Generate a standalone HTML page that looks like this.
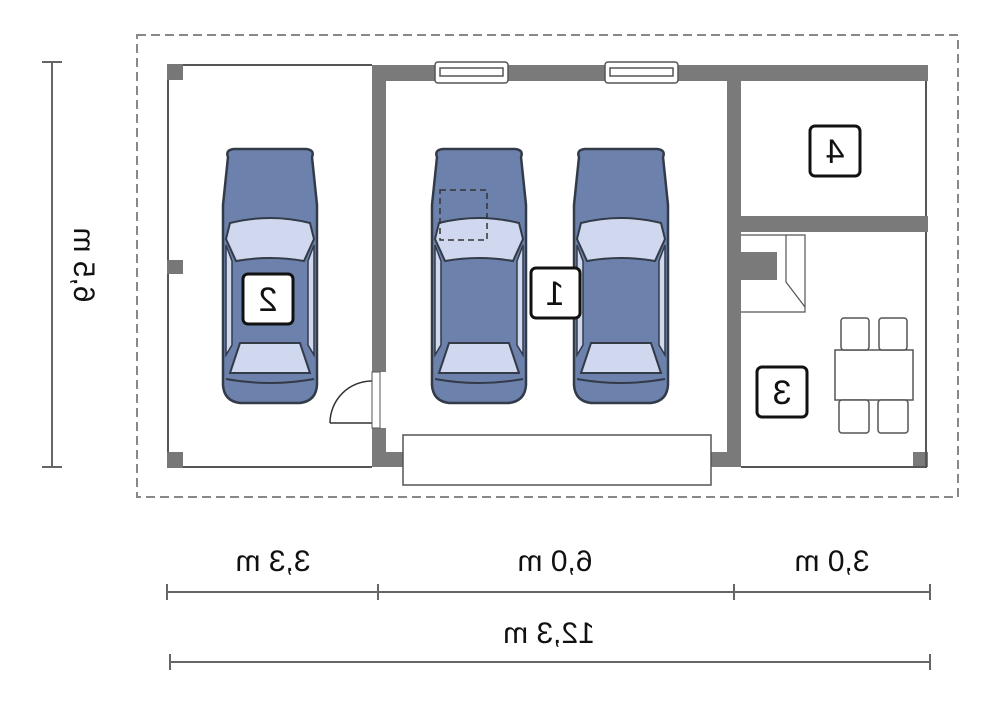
<!DOCTYPE html>
<html><head><meta charset="utf-8"><style>html,body{margin:0;padding:0;background:#fff}svg{display:block}</style></head>
<body>
<svg width="1000" height="724" viewBox="0 0 1000 724" xmlns="http://www.w3.org/2000/svg" font-family="Liberation Sans, sans-serif">
<defs>
<g id="car">
  <path d="M-42,-118 Q-45,-125 -36,-126 L36,-126 Q45,-125 42,-118 L47,-70 L47,110 Q46,126 30,128 L-30,128 Q-46,126 -47,110 L-47,-70 Z" fill="#6c82ad" stroke="#333a48" stroke-width="2.5"/>
  <path d="M-40,-52 Q0,-62 40,-52 L44,-36 L34,-14 Q0,-20 -34,-14 L-44,-36 Z" fill="#cfd8ee" stroke="#333a48" stroke-width="2"/>
  <path d="M-44,-30 L-38,-14 L-38,70 L-44,80 Z M44,-30 L38,-14 L38,70 L44,80 Z" fill="#cfd8ee" stroke="#333a48" stroke-width="1.5"/>
  <path d="M-30,68 L30,68 L40,98 L-40,98 Z" fill="#cfd8ee" stroke="#333a48" stroke-width="2"/>
  <path d="M-44,104 Q0,112 44,104" fill="none" stroke="#333a48" stroke-width="2"/>
</g>
</defs>
<rect x="137" y="35" width="821" height="462" fill="none" stroke="#888" stroke-width="2" stroke-dasharray="9,5"/>
<path d="M168,65 H372 M168,65 V467 H372" fill="none" stroke="#555" stroke-width="2"/>
<rect x="167" y="64" width="16" height="16" fill="#777"/>
<rect x="167" y="260" width="16" height="14" fill="#777"/>
<rect x="167" y="452" width="16" height="16" fill="#777"/>
<g fill="#7a7a7a">
<rect x="372" y="65" width="556" height="16"/>
<rect x="372" y="65" width="14" height="307"/>
<rect x="372" y="428" width="14" height="39"/>
<rect x="372" y="452" width="31" height="15"/>
<rect x="711" y="452" width="30" height="15"/>
<rect x="727" y="65" width="14" height="402"/>
<rect x="741" y="216" width="187" height="16"/>
<rect x="741" y="252" width="36" height="28"/>
<rect x="913" y="452" width="15" height="15"/>
</g>
<path d="M926,81 V216 M926,232 V467 H741" fill="none" stroke="#555" stroke-width="2"/>
<g fill="#fff" stroke="#555" stroke-width="1.5">
<rect x="435" y="62" width="73" height="21" rx="3"/><rect x="440" y="68" width="63" height="8"/>
<rect x="605" y="62" width="73" height="21" rx="3"/><rect x="610" y="68" width="63" height="8"/>
</g>
<path d="M330,423 H372 M330,423 A42,42 0 0 1 372,381" fill="none" stroke="#333" stroke-width="1.5"/>
<rect x="372" y="372" width="8" height="56" fill="#fff" stroke="#555" stroke-width="1"/>
<rect x="403" y="435" width="308" height="50" fill="#fff" stroke="#555" stroke-width="1.5"/>
<path d="M741,235 H805 V312 H741 M786,235 V282 L805,307" fill="none" stroke="#555" stroke-width="1.2"/>
<g fill="#fff" stroke="#555" stroke-width="1.5">
<rect x="835" y="350" width="78" height="50"/>
<rect x="841" y="318" width="28" height="32" rx="3"/><rect x="879" y="318" width="28" height="32" rx="3"/>
<rect x="839" y="400" width="30" height="33" rx="3"/><rect x="878" y="400" width="30" height="33" rx="3"/>
</g>
<use href="#car" x="270" y="275"/>
<use href="#car" x="479" y="275"/>
<use href="#car" x="621" y="275"/>
<rect x="440" y="190" width="47" height="50" fill="none" stroke="#333" stroke-width="1.5" stroke-dasharray="6,4"/>
<g fill="#fff" stroke="#111" stroke-width="3">
<rect x="531" y="268" width="49" height="50" rx="5"/>
<rect x="243" y="274" width="50" height="50" rx="5"/>
<rect x="757" y="367" width="50" height="50" rx="5"/>
<rect x="810" y="126" width="50" height="50" rx="5"/>
</g>
<g font-size="34" text-anchor="middle" fill="#111">
<text transform="translate(555,305) scale(-1,1)">1</text>
<text transform="translate(268,311) scale(-1,1)">2</text>
<text transform="translate(782,404) scale(-1,1)">3</text>
<text transform="translate(835,163) scale(-1,1)">4</text>
</g>
<g stroke="#666" stroke-width="2" fill="none">
<path d="M52,62 V467 M42,62 H62 M42,467 H62"/>
<path d="M167,592 H930 M167,584 V600 M378,584 V600 M734,584 V600 M930,584 V600"/>
<path d="M170,662 H930 M170,654 V670 M930,654 V670"/>
</g>
<g font-size="30" text-anchor="middle" fill="#111">
<text transform="translate(273,571) scale(-1,1)">3,3 m</text>
<text transform="translate(555,571) scale(-1,1)">6,0 m</text>
<text transform="translate(832,571) scale(-1,1)">3,0 m</text>
<text transform="translate(549,643) scale(-1,1)">12,3 m</text>
<text transform="translate(74,265) scale(-1,1) rotate(-90)">6,5 m</text>
</g>
</svg>
</body></html>
